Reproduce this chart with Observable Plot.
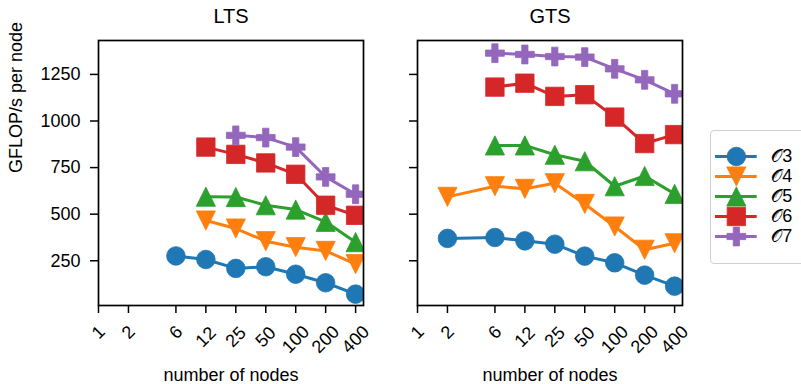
<!DOCTYPE html>
<html><head><meta charset="utf-8">
<script src="https://cdn.jsdelivr.net/npm/d3@7"></script>
<script src="https://cdn.jsdelivr.net/npm/@observablehq/plot@0.6"></script>
<style>
body{margin:0;background:#fff;}
#wrap{position:relative;width:801px;height:384px;overflow:hidden;font-family:"Liberation Sans",Arial,sans-serif;}
#wrap > *{position:absolute;}
#legbox{left:710px;top:130px;width:120px;height:134px;border:1px solid #d0d0d0;border-radius:4px;box-sizing:border-box;}
</style></head><body><div id="wrap"><div id="legbox"></div></div>
<script>
// ---- data ----
const tickNodes = [1, 2, 6, 12, 24, 48, 96, 192, 384];
const tickLabels = ["1", "2", "6", "12", "25", "50", "100", "200", "400"];
const yTicks = [250, 500, 750, 1000, 1250];
const orders = ["𝒪3", "𝒪4", "𝒪5", "𝒪6", "𝒪7"];
const colors = ["#1f77b4", "#ff7f0e", "#2ca02c", "#d62728", "#9467bd"];

const ltsNodes = [6, 12, 24, 48, 96, 192, 384];
const ltsO3 = [276, 257, 209, 218, 178, 132, 71];
const ltsO4 = [null, 466, 423, 355, 323, 303, 232];
const ltsO5 = [null, 594, 592, 548, 525, 459, 350];
const ltsO6 = [null, 860, 821, 775, 714, 548, 494];
const ltsO7 = [null, null, 923, 911, 860, 700, 607];

const gtsNodes = [2, 6, 12, 24, 48, 96, 192, 384];
const gtsO3 = [370, 375, 357, 339, 275, 239, 173, 114];
const gtsO4 = [593, 650, 636, 666, 555, 434, 309, 344];
const gtsO5 = [null, 869, 869, 819, 784, 650, 705, 609];
const gtsO6 = [null, 1182, 1203, 1132, 1141, 1021, 879, 927];
const gtsO7 = [null, 1364, 1357, 1346, 1343, 1280, 1221, 1146];

// ---- marker shapes (matplotlib-like) ----
const mk = (pts) => ({
  draw(ctx, size) {
    const h = Math.sqrt(size / Math.PI);
    ctx.moveTo(pts[0][0] * h, pts[0][1] * h);
    for (let i = 1; i < pts.length; i++) ctx.lineTo(pts[i][0] * h, pts[i][1] * h);
    ctx.closePath();
  }
});
const symbols = [
  "circle",
  mk([[0, 1], [-1, -1], [1, -1]]),
  mk([[0, -1], [-1, 1], [1, 1]]),
  mk([[-1, -1], [1, -1], [1, 1], [-1, 1]]),
  mk([[-1, -3], [1, -3], [1, -1], [3, -1], [3, 1], [1, 1], [1, 3], [-1, 3], [-1, 1], [-3, 1], [-3, -1], [-1, -1]].map(([a, b]) => [a / 3, b / 3]))
];
const radii = [9.3, 9.6, 9.6, 9.2, 9.4];

function rows(nodes, vals) {
  return nodes.map((n, i) => ({n, v: vals[i]})).filter(d => d.v != null);
}

const font = {fontFamily: "'Liberation Sans', Arial, sans-serif", fontSize: "18px", background: "none", overflow: "visible"};

function panel(title, nodes, series, showY) {
  const marks = [];
  series.forEach((vals, i) => {
    const data = rows(nodes, vals);
    marks.push(Plot.line(data, {x: "n", y: "v", stroke: colors[i], strokeWidth: 3, clip: true}));
    marks.push(Plot.dot(data, {x: "n", y: "v", fill: colors[i], stroke: colors[i], strokeWidth: 0.8, r: radii[i], symbol: symbols[i], clip: true}));
  });
  marks.push(Plot.axisY(yTicks, {tickSize: 8, tickPadding: 10, strokeWidth: 1.5, label: null, tickFormat: showY ? (d => String(d)) : (() => "")}));
  marks.push(Plot.axisX(tickNodes, {tickSize: 8, strokeWidth: 1.5, label: null, tickFormat: () => ""}));
  const lab = (d) => tickLabels[tickNodes.indexOf(d)];
  [[1, 27], [2, 31.5], [3, 34]].forEach(([len, dy]) => {
    marks.push(Plot.text(tickNodes.filter(d => lab(d).length === len), {
      x: d => d, text: lab, frameAnchor: "bottom", dy, rotate: -45,
      textAnchor: "middle", lineAnchor: "middle", fontSize: 18
    }));
  });
  marks.push(Plot.frame({stroke: "black", strokeWidth: 1.7}));
  marks.push(Plot.text([title], {frameAnchor: "top", dy: -24, lineAnchor: "middle", fontSize: 20}));
  marks.push(Plot.text(["number of nodes"], {frameAnchor: "bottom", dy: 70, lineAnchor: "middle", fontSize: 18}));
  if (showY) marks.push(Plot.text(["GFLOP/s per node"], {frameAnchor: "left", dx: -82, rotate: -90, lineAnchor: "middle", fontSize: 18}));
  return Plot.plot({
    width: 380, height: 384,
    marginLeft: 98, marginRight: 17, marginTop: 40, marginBottom: 79,
    x: {type: "log", base: 2, domain: [1, 461]},
    y: {domain: [10, 1432]},
    style: font,
    marks
  });
}

const wrap = document.getElementById("wrap");
const left = panel("LTS", ltsNodes, [ltsO3, ltsO4, ltsO5, ltsO6, ltsO7], true);
left.style.left = "0px"; left.style.top = "0px";
wrap.appendChild(left);
const right = panel("GTS", gtsNodes, [gtsO3, gtsO4, gtsO5, gtsO6, gtsO7], false);
right.style.left = "319px"; right.style.top = "0px";
wrap.appendChild(right);

// ---- legend ----
const legMarks = [
  Plot.ruleY(orders, {y: d => d, x1: 0, x2: 1, stroke: (d, i) => colors[orders.indexOf(d)], strokeWidth: 3})
];
orders.forEach((o, i) => {
  legMarks.push(Plot.dot([o], {x: 0.5, y: d => d, fill: colors[i], stroke: colors[i], strokeWidth: 0.8, r: radii[i], symbol: symbols[i]}));
});
legMarks.push(Plot.text(orders, {x: 1, y: d => d, text: d => d, dx: 14, textAnchor: "start", fontSize: 18}));
const legend = Plot.plot({
  width: 96, height: 150, margin: 0,
  x: {domain: [0, 1], range: [10, 51.7], axis: null},
  y: {type: "point", domain: orders, range: [19, 122.3], axis: null},
  color: {type: "identity"},
  style: font,
  marks: legMarks
});
legend.style.left = "705px"; legend.style.top = "125px";
wrap.appendChild(legend);
</script>
</body></html>
